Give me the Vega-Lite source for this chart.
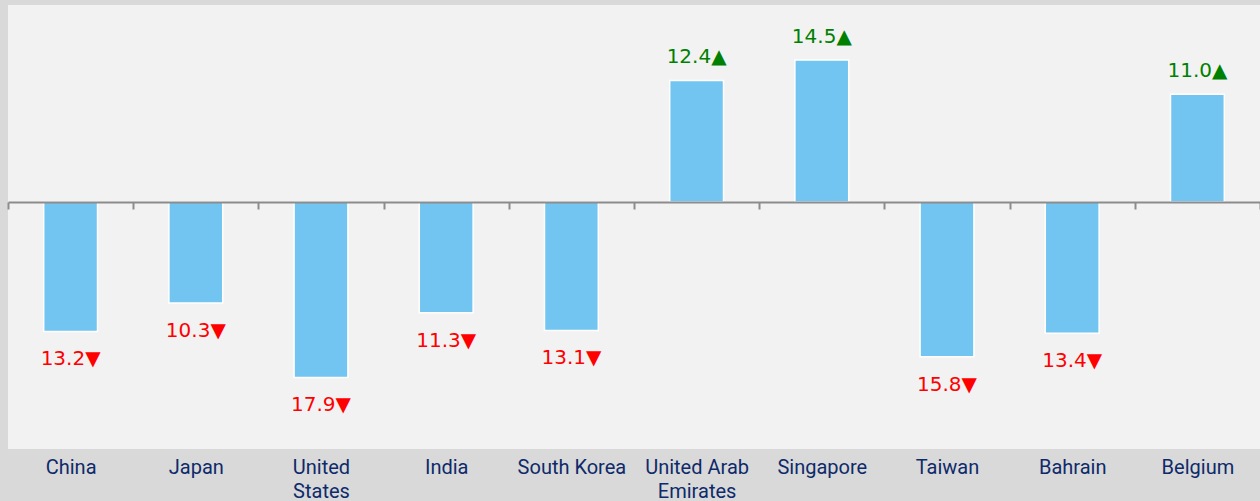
{
  "$schema": "https://vega.github.io/schema/vega-lite/v6.json",
  "width": 1252,
  "height": 444,
  "autosize": {"type": "none"},
  "padding": {"left": 8, "top": 5, "right": 0, "bottom": 52},
  "background": "#d9d9d9",
  "config": {"view": {"fill": "#f2f2f2", "stroke": null}},
  "data": {
    "values": [
      {"country": "China", "value": -13.2},
      {"country": "Japan", "value": -10.3},
      {"country": "United States", "value": -17.9},
      {"country": "India", "value": -11.3},
      {"country": "South Korea", "value": -13.1},
      {"country": "United Arab Emirates", "value": 12.4},
      {"country": "Singapore", "value": 14.5},
      {"country": "Taiwan", "value": -15.8},
      {"country": "Bahrain", "value": -13.4},
      {"country": "Belgium", "value": 11.0}
    ]
  },
  "transform": [
    {"calculate": "format(abs(datum.value), '.1f') + (datum.value < 0 ? '▼' : '▲')", "as": "label"}
  ],
  "encoding": {
    "x": {
      "field": "country",
      "type": "nominal",
      "sort": null,
      "scale": {"paddingInner": 0, "paddingOuter": 0},
      "axis": {
        "title": null,
        "offset": -247,
        "zindex": 1,
        "domain": true,
        "domainColor": "#8c8c8c",
        "domainWidth": 2,
        "ticks": true,
        "tickBand": "extent",
        "tickColor": "#8c8c8c",
        "tickWidth": 2,
        "tickSize": 7,
        "labelAngle": 0,
        "labelFont": "Roboto",
        "labelFontSize": 20,
        "labelColor": "#0e2a6a",
        "labelPadding": 248,
        "labelLineHeight": 24,
        "labelBaseline": "top",
        "labelExpr": "datum.label == 'United States' ? ['United', 'States'] : datum.label == 'United Arab Emirates' ? ['United Arab', 'Emirates'] : datum.label"
      }
    },
    "y": {
      "field": "value",
      "type": "quantitative",
      "scale": {"domain": [-25.2, 20.1], "nice": false, "zero": false},
      "axis": null
    }
  },
  "layer": [
    {
      "mark": {"type": "bar", "color": "#72c5f0", "stroke": "#ffffff", "strokeWidth": 1.5, "width": {"band": 0.43}}
    },
    {
      "transform": [{"filter": "datum.value < 0"}],
      "mark": {"type": "text", "font": "DejaVu Sans", "fontSize": 20, "baseline": "alphabetic", "align": "center", "dy": 34, "color": "#ff0000"},
      "encoding": {"text": {"field": "label"}}
    },
    {
      "transform": [{"filter": "datum.value >= 0"}],
      "mark": {"type": "text", "font": "DejaVu Sans", "fontSize": 20, "baseline": "alphabetic", "align": "center", "dy": -17, "color": "#008000"},
      "encoding": {"text": {"field": "label"}}
    }
  ]
}
